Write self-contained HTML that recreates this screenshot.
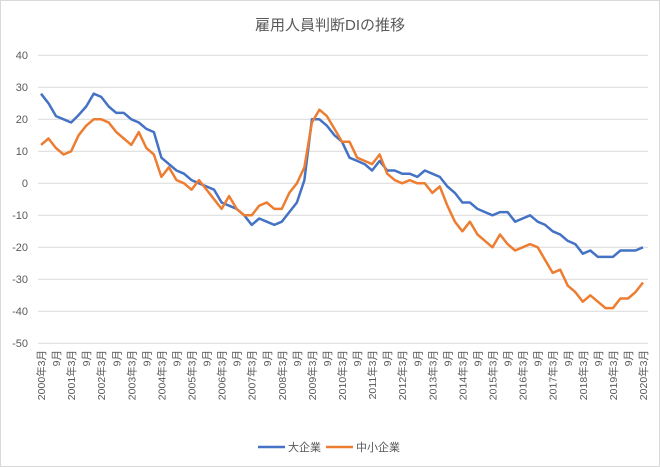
<!DOCTYPE html>
<html><head><meta charset="utf-8"><style>
html,body{margin:0;padding:0;background:#fff}
svg{display:block}
text{font-family:"Liberation Sans","Noto Sans CJK JP",sans-serif;fill:#595959}
</style></head><body>
<svg id="s" width="660" height="467" viewBox="0 0 660 467" xmlns="http://www.w3.org/2000/svg">
<rect x="0.5" y="0.5" width="659" height="466" fill="#fff" stroke="#d9d9d9"/>
<text x="330" y="30" font-size="15" text-anchor="middle">雇用人員判断DIの推移</text>
<g stroke="#d9d9d9" stroke-width="1">
<line x1="38" x2="648" y1="55.3" y2="55.3"/><line x1="38" x2="648" y1="87.3" y2="87.3"/>
<line x1="38" x2="648" y1="119.3" y2="119.3"/><line x1="38" x2="648" y1="151.3" y2="151.3"/>
<line x1="38" x2="648" y1="183.3" y2="183.3"/><line x1="38" x2="648" y1="215.3" y2="215.3"/>
<line x1="38" x2="648" y1="247.3" y2="247.3"/><line x1="38" x2="648" y1="279.3" y2="279.3"/>
<line x1="38" x2="648" y1="311.3" y2="311.3"/><line x1="38" x2="648" y1="343.3" y2="343.3"/>
</g>
<g font-size="11" text-anchor="end">
<text x="28" y="59">40</text><text x="28" y="91">30</text><text x="28" y="123">20</text>
<text x="28" y="155">10</text><text x="28" y="187">0</text><text x="28" y="219">-10</text>
<text x="28" y="251">-20</text><text x="28" y="283">-30</text><text x="28" y="315">-40</text>
<text x="28" y="347">-50</text>
</g>
<g id="xl" font-size="10.5" text-anchor="end">
<text transform="translate(45,350) rotate(-90)">2000年3月</text>
<text transform="translate(60,350) rotate(-90)">9月</text>
<text transform="translate(75,350) rotate(-90)">2001年3月</text>
<text transform="translate(90,350) rotate(-90)">9月</text>
<text transform="translate(105,350) rotate(-90)">2002年3月</text>
<text transform="translate(120,350) rotate(-90)">9月</text>
<text transform="translate(135,350) rotate(-90)">2003年3月</text>
<text transform="translate(150,350) rotate(-90)">9月</text>
<text transform="translate(165,350) rotate(-90)">2004年3月</text>
<text transform="translate(180,350) rotate(-90)">9月</text>
<text transform="translate(195,350) rotate(-90)">2005年3月</text>
<text transform="translate(210,350) rotate(-90)">9月</text>
<text transform="translate(225,350) rotate(-90)">2006年3月</text>
<text transform="translate(240,350) rotate(-90)">9月</text>
<text transform="translate(255,350) rotate(-90)">2007年3月</text>
<text transform="translate(270,350) rotate(-90)">9月</text>
<text transform="translate(285,350) rotate(-90)">2008年3月</text>
<text transform="translate(300,350) rotate(-90)">9月</text>
<text transform="translate(315,350) rotate(-90)">2009年3月</text>
<text transform="translate(330,350) rotate(-90)">9月</text>
<text transform="translate(345,350) rotate(-90)">2010年3月</text>
<text transform="translate(360,350) rotate(-90)">9月</text>
<text transform="translate(375,350) rotate(-90)">2011年3月</text>
<text transform="translate(390,350) rotate(-90)">9月</text>
<text transform="translate(405,350) rotate(-90)">2012年3月</text>
<text transform="translate(420,350) rotate(-90)">9月</text>
<text transform="translate(435,350) rotate(-90)">2013年3月</text>
<text transform="translate(450,350) rotate(-90)">9月</text>
<text transform="translate(465,350) rotate(-90)">2014年3月</text>
<text transform="translate(480,350) rotate(-90)">9月</text>
<text transform="translate(495,350) rotate(-90)">2015年3月</text>
<text transform="translate(510,350) rotate(-90)">9月</text>
<text transform="translate(525,350) rotate(-90)">2016年3月</text>
<text transform="translate(540,350) rotate(-90)">9月</text>
<text transform="translate(555,350) rotate(-90)">2017年3月</text>
<text transform="translate(570,350) rotate(-90)">9月</text>
<text transform="translate(585,350) rotate(-90)">2018年3月</text>
<text transform="translate(600,350) rotate(-90)">9月</text>
<text transform="translate(615,350) rotate(-90)">2019年3月</text>
<text transform="translate(630,350) rotate(-90)">9月</text>
<text transform="translate(645,350) rotate(-90)">2020年3月</text>
</g>
<polyline id="pb" fill="none" stroke="#4472c4" stroke-width="2.5" stroke-linejoin="round" points=""/>
<polyline id="po" fill="none" stroke="#ed7d31" stroke-width="2.5" stroke-linejoin="round" points=""/>
<line x1="258" x2="285" y1="447" y2="447" stroke="#4472c4" stroke-width="2.5"/>
<text x="288" y="451" font-size="11">大企業</text>
<line x1="326" x2="353" y1="447" y2="447" stroke="#ed7d31" stroke-width="2.5"/>
<text x="356" y="451" font-size="11">中小企業</text>
</svg>
<script>
var b=[28,25,21,20,19,21.3,24,28,27,24,22,22,20,19,17,16,8,6,4,3,1,0,-1,-2,-6,-7,-8,-10,-13,-11,-12,-13,-12,-9,-6,1,20,20,18,
15,13,8,7,6,4,7,4,4,3,3,2,4,3,2,-1,-3,-6,-6,-8,-9,-10,-9,-9,-12,-11,-10,-12,-13,-15,-16,-18,-19,-22,-21,-23,-23,-23,-21,-21,-21,-20];
var o=[12,14,11,9,10,15,18,20,20,19,16,14,12,16,11,9,2,5,1,0,-2,1,-2,-5,-8,-4,-8,-10,-10,-7,-6,-8,-8,-3,0,5,19,23,21,
17,13,13,8,7,6,9,3,1,0,1,0,0,-3,-1,-7,-12,-15,-12,-16,-18,-20,-16,-19,-21,-20,-19,-20,-24,-28,-27,-32,-34,-37,-35,-37,-39,-39,-36,-36,-34,-31];
function p(a){return a.map(function(v,i){return (41+7.525*i).toFixed(1)+","+(183.3-v*3.2).toFixed(1)}).join(" ")}
document.getElementById("pb").setAttribute("points",p(b));
document.getElementById("po").setAttribute("points",p(o));
var t=document.querySelectorAll("#xl text");
for(var i=0;i<t.length;i++){t[i].setAttribute("transform","translate("+(41+7.525*2*i+4).toFixed(1)+",350) rotate(-90)");}
</script>
</body></html>
